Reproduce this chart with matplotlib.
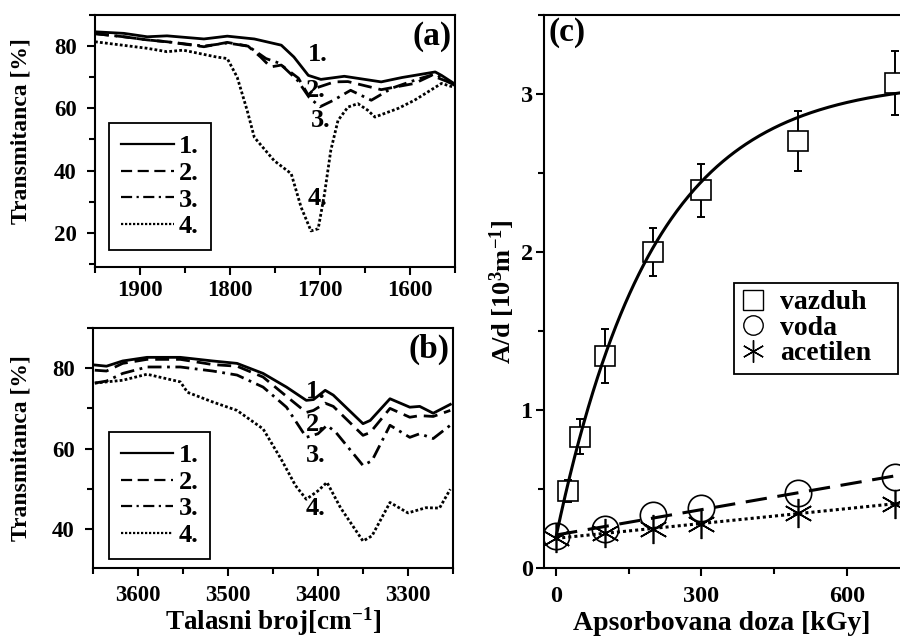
import numpy as np
import matplotlib
matplotlib.use("Agg")
import matplotlib.pyplot as plt
from matplotlib.lines import Line2D
from matplotlib.patches import Rectangle
from matplotlib.ticker import MultipleLocator

plt.rcParams['font.family'] = ['Liberation Serif', 'DejaVu Serif']
plt.rcParams['font.weight'] = 'bold'
plt.rcParams['mathtext.fontset'] = 'custom'
plt.rcParams['mathtext.rm'] = 'Liberation Serif:bold'
plt.rcParams['mathtext.bf'] = 'Liberation Serif:bold'
plt.rcParams['mathtext.it'] = 'Liberation Serif:bold'

# ---------------- Panel (a) data: 1950-1550 cm-1 ----------------
a1_x = [1950, 1918, 1892, 1870, 1829, 1803, 1773, 1743, 1729, 1713, 1699, 1673, 1632, 1609, 1572, 1565, 1548]
a1_y = [84.6, 84.1, 83.0, 83.3, 82.3, 83.2, 82.3, 80.3, 76.5, 70.6, 69.3, 70.3, 68.5, 69.9, 71.7, 70.6, 67.4]

a2_x = [1950, 1918, 1892, 1870, 1829, 1803, 1780, 1766, 1755, 1743, 1724, 1713, 1706, 1684, 1669, 1632, 1595, 1576, 1548]
a2_y = [84.0, 83.0, 82.0, 81.4, 79.8, 81.2, 80.0, 76.5, 73.3, 73.9, 69.7, 64.2, 66.4, 68.5, 68.6, 66.0, 68.0, 70.6, 67.4]

a3_x = [1950, 1918, 1892, 1870, 1829, 1803, 1780, 1760, 1745, 1725, 1712, 1700, 1685, 1666, 1643, 1620, 1590, 1572, 1548]
a3_y = [84.0, 83.0, 82.0, 81.4, 80.0, 81.0, 80.0, 76.0, 74.5, 69.0, 63.5, 60.5, 62.6, 65.8, 62.6, 66.5, 69.5, 71.0, 67.0]

a4_x = [1950, 1892, 1870, 1852, 1815, 1803, 1792, 1781, 1773, 1751, 1732, 1721, 1710, 1702, 1695, 1688, 1680,
        1669, 1658, 1647, 1639, 1613, 1595, 1565, 1548]
a4_y = [81.4, 79.3, 78.2, 78.7, 76.5, 76.0, 70.0, 59.4, 50.7, 43.2, 39.0, 28.2, 20.6, 21.3, 32.5, 46.5, 56.1,
        60.4, 61.5, 59.4, 57.2, 60.0, 62.6, 68.0, 66.5]

# ---------------- Panel (b) data: 3650-3250 cm-1 ----------------
b1_x = [3648, 3635, 3617, 3590, 3553, 3517, 3490, 3461, 3435, 3413, 3405, 3392, 3383, 3350, 3342, 3320, 3298, 3287, 3272, 3253]
b1_y = [80.8, 80.5, 81.8, 82.7, 82.7, 81.8, 81.2, 78.7, 75.3, 72.0, 72.2, 74.5, 73.3, 66.2, 67.0, 72.4, 70.3, 70.5, 68.8, 71.0]

b2_x = [3648, 3635, 3617, 3590, 3553, 3517, 3490, 3461, 3435, 3413, 3405, 3392, 3383, 3350, 3342, 3320, 3298, 3287, 3272, 3253]
b2_y = [79.5, 79.3, 81.2, 82.2, 82.2, 80.9, 80.5, 77.8, 73.0, 69.0, 69.5, 71.3, 70.5, 63.3, 64.0, 70.0, 67.8, 68.2, 68.0, 69.5]

b3_x = [3648, 3635, 3617, 3590, 3553, 3517, 3490, 3461, 3435, 3413, 3400, 3390, 3380, 3350, 3340, 3320, 3298, 3287, 3272, 3253]
b3_y = [76.3, 76.8, 78.7, 80.3, 80.3, 79.3, 78.3, 75.3, 70.3, 62.8, 63.7, 65.8, 64.0, 55.8, 57.0, 65.8, 62.8, 63.7, 62.5, 65.8]

b4_x = [3648, 3617, 3590, 3553, 3545, 3517, 3490, 3461, 3440, 3425, 3413, 3400, 3390, 3375, 3350, 3340, 3320, 3300, 3280, 3265, 3253]
b4_y = [76.3, 77.0, 78.5, 76.6, 74.0, 71.6, 69.5, 64.9, 57.0, 50.8, 47.4, 49.5, 51.6, 45.3, 37.0, 38.3, 46.6, 44.0, 45.3, 45.2, 49.9]

curve_labels = ['1.', '2.', '3.', '4.']

# ---------------- Panel (c) data ----------------
vaz_dose = [25, 50, 100, 200, 300, 500, 700]
vaz_ad = [0.49, 0.83, 1.34, 2.00, 2.39, 2.70, 3.07]
vaz_err = [0.07, 0.11, 0.17, 0.15, 0.17, 0.19, 0.20]

voda_dose = [0, 100, 200, 300, 500, 700]
voda_ad = [0.20, 0.25, 0.335, 0.38, 0.475, 0.576]

acet_dose = [0, 100, 200, 300, 500, 700]
acet_ad = [0.19, 0.22, 0.245, 0.28, 0.35, 0.405]

# exponential-association fit of vazduh: y = y0 + A(1 - exp(-x/t))
FIT_Y0, FIT_A, FIT_T = 0.20, 2.89, 200.0

legend_c = ['vazduh', 'voda', 'acetilen']

# ---------------- figure ----------------
W, H = 900, 641
fig = plt.figure(figsize=(9.0, 6.41), dpi=100)

def pos(l, r, t, b):
    return [l / W, 1 - b / H, (r - l) / W, (b - t) / H]

axa = fig.add_axes(pos(95, 455, 15, 267))
axb = fig.add_axes(pos(93, 453, 328, 568))
axc = fig.add_axes(pos(544, 900, 15, 568))

LW = 2.0
styles = [dict(ls='-'), dict(ls=(0, (5, 2.5))), dict(ls=(0, (5, 2, 1, 2))), dict(ls=(0, (1, 0.8)))]

def style_axis(ax, fs=16.5, xpad=4, ypad=4):
    for s in ax.spines.values():
        s.set_linewidth(1.5)
    ax.tick_params(which='both', direction='out', width=1.5, labelsize=fs)
    ax.tick_params(which='major', length=6)
    ax.tick_params(which='minor', length=4)
    ax.tick_params(axis='x', pad=xpad)
    ax.tick_params(axis='y', pad=ypad)
    for lab in ax.get_xticklabels() + ax.get_yticklabels():
        lab.set_fontweight('bold')

def spectra(ax, xs, ys, labpos, legbox, panel):
    handles = []
    for x, y, st in zip(xs, ys, styles):
        ax.plot(x, y, color='black', lw=LW, **st)
        handles.append(Line2D([], [], color='black', lw=LW * 0.8, **st))
    for (tx, ty), lab in zip(labpos, curve_labels):
        ax.text(tx, ty, lab, fontsize=19, fontweight='bold', ha='center', va='center')
    leg = ax.legend(handles, curve_labels, loc='lower left', bbox_to_anchor=legbox,
                    borderaxespad=0, fancybox=False, edgecolor='black', framealpha=1,
                    prop=dict(size=19, weight='bold'), handlelength=2.0, handletextpad=0.2,
                    labelspacing=0.12, borderpad=0.45)
    leg.get_frame().set_linewidth(1.3)
    ax.text(0.99, 0.975, panel, transform=ax.transAxes, fontsize=24, fontweight='bold',
            ha='right', va='top')
    ax.set_ylabel('Transmitanca [%]', fontsize=17, fontweight='bold')

# Panel (a)
spectra(axa, [a1_x, a2_x, a3_x, a4_x], [a1_y, a2_y, a3_y, a4_y],
        [(1702, 77.4), (1705, 65.8), (1699, 56.1), (1703, 31.0)], (0.039, 0.067), '(a)')
axa.set_xlim(1950, 1550)
axa.set_ylim(9, 90)
axa.xaxis.set_major_locator(MultipleLocator(100))
axa.xaxis.set_minor_locator(MultipleLocator(50))
axa.yaxis.set_major_locator(MultipleLocator(20))
axa.yaxis.set_minor_locator(MultipleLocator(10))
axa.yaxis.set_label_coords(-0.175, 0.54)
style_axis(axa, xpad=3, ypad=7)

# Panel (b)
spectra(axb, [b1_x, b2_x, b3_x, b4_x], [b1_y, b2_y, b3_y, b4_y],
        [(3403, 74.25), (3403, 66.0), (3403, 58.25), (3403, 45.0)], (0.044, 0.0375), '(b)')
axb.set_xlim(3650, 3250)
axb.set_ylim(30.3, 90)
axb.xaxis.set_major_locator(MultipleLocator(100))
axb.xaxis.set_minor_locator(MultipleLocator(50))
axb.yaxis.set_major_locator(MultipleLocator(20))
axb.yaxis.set_minor_locator(MultipleLocator(10))
axb.set_xlabel('Talasni broj[cm$^{-1}$]', fontsize=19.5, fontweight='bold')
axb.xaxis.set_label_coords(0.5, -0.155)
axb.yaxis.set_label_coords(-0.17, 0.5)
style_axis(axb, xpad=6, ypad=7)

# Panel (c)
axc.errorbar(vaz_dose, vaz_ad, yerr=vaz_err, fmt='none', ecolor='black', elinewidth=1.4,
             capsize=3, capthick=1.4, zorder=2)
axc.plot(vaz_dose, vaz_ad, ls='none', marker='s', ms=15, mfc='white', mec='black', mew=1.2, zorder=3)
xf = np.linspace(0, 710, 300)
axc.plot(xf, FIT_Y0 + FIT_A * (1 - np.exp(-xf / FIT_T)), color='black', lw=2.2, zorder=4)

pv = np.polyfit(voda_dose, voda_ad, 1)
pa = np.polyfit(acet_dose, acet_ad, 1)
xl = np.array([0, 710])
axc.plot(xl, np.polyval(pv, xl), color='black', lw=2.2, ls=(0, (7, 3.5)), zorder=4)
axc.plot(xl, np.polyval(pa, xl), color='black', lw=2.2, ls=(0, (1, 1)), zorder=4)
axc.plot(voda_dose, voda_ad, ls='none', marker='o', ms=19, mfc='none', mec='black', mew=1.2, zorder=3)
axc.plot(acet_dose, acet_ad, ls='none', marker=(6, 2, 0), ms=21, mec='black', mew=1.2, zorder=3)

axc.set_xlim(-25, 710)
axc.set_ylim(0, 3.5)
axc.xaxis.set_major_locator(MultipleLocator(300))
axc.xaxis.set_minor_locator(MultipleLocator(150))
axc.yaxis.set_major_locator(MultipleLocator(1))
axc.yaxis.set_minor_locator(MultipleLocator(0.5))
axc.spines['right'].set_visible(False)
axc.set_xlabel('Apsorbovana doza [kGy]', fontsize=20, fontweight='bold')
axc.xaxis.set_label_coords(0.5, -0.078)
axc.set_ylabel('A/d [10$^{3}$m$^{-1}$]', fontsize=19, fontweight='bold')
axc.yaxis.set_label_coords(-0.075, 0.5)
axc.text(0.012, 0.997, '(c)', transform=axc.transAxes, fontsize=24, fontweight='bold',
         ha='left', va='top')
hc = [Line2D([], [], ls='none', marker='s', ms=14, mfc='white', mec='black', mew=1.0),
      Line2D([], [], ls='none', marker='o', ms=14, mfc='none', mec='black', mew=1.0),
      Line2D([], [], ls='none', marker=(6, 2, 0), ms=16, mec='black', mew=1.0)]
# legend box (frame drawn separately to match the wider box of the original)
lx0, ly0, lx1, ly1 = (734 - 544) / 356, (568 - 374) / 553, (898 - 544) / 356, (568 - 283) / 553
axc.add_patch(Rectangle((lx0, ly0), lx1 - lx0, ly1 - ly0, transform=axc.transAxes,
                        facecolor='white', edgecolor='black', lw=1.3, zorder=5, clip_on=False))
legc = axc.legend(hc, legend_c, loc='upper left', bbox_to_anchor=(lx0, ly1),
                  borderaxespad=0, frameon=False,
                  prop=dict(size=20, weight='bold'), handlelength=0.9, handletextpad=0.5,
                  labelspacing=0.0, borderpad=0.25)
legc.set_zorder(6)
style_axis(axc, fs=17.5, xpad=7, ypad=2)

fig.savefig('out.png', dpi=100)
